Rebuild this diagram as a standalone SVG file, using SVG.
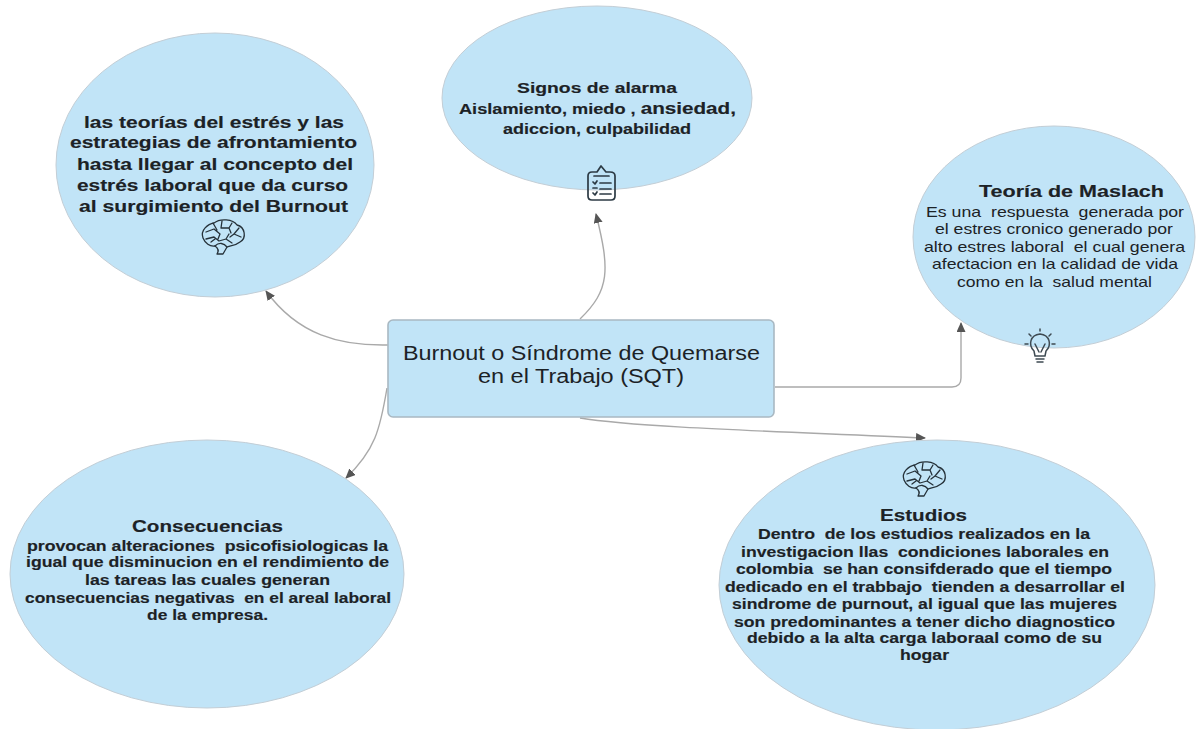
<svg xmlns="http://www.w3.org/2000/svg" width="1199" height="729" viewBox="0 0 1199 729">
<style>
.n{fill:#c1e4f7;stroke:#c3ced6;stroke-width:1}
.c{fill:none;stroke:#a9a9a9;stroke-width:1.4}
text{font-family:"Liberation Sans",Arial,sans-serif;fill:#1c2226;white-space:pre}
.b{font-weight:bold;font-size:14.5px;stroke:#1c2226;stroke-width:.15}
.t{font-size:16.5px}
.h{font-size:17px}
.r{font-size:14.5px;fill:#2b3338}
.ic{fill:none;stroke:#2c3a44;stroke-width:1.7;stroke-linecap:round;stroke-linejoin:round}
.br{fill:none;stroke:#26323a;stroke-width:1.3;stroke-linecap:round;stroke-linejoin:round}
</style>
<defs>
<marker id="a" markerWidth="11" markerHeight="11" refX="9" refY="4.5" orient="auto" markerUnits="userSpaceOnUse"><path d="M0 0L10 4.5L0 9Z" fill="#555"/></marker>
<g id="brain" class="br">
<path d="M-20 2C-23-6-15-12-9-13C-3-18 10-17 14-11C22-9 24 2 17 6C12 10 8 9 4 11L0 18L-6 18C-4 15-5 12-8 10C-13 11-18 7-20 2Z"/>
<path d="M-17-4L-9-7L-3-2M-10-13L-6-6M-1-15L-2-8L6-8L8-3M9-13L6-8M16-8L11-2L18 1M-17 3L-9 1L-4 5L3 3L9 7M-8 10C-4 6 1 7 4 11M3 3L6-2M-3-2L-5 3M-12 6L-8 3M11-2L7 1"/>
</g>
</defs>
<rect width="1199" height="729" fill="#fff"/>
<g id="connectors">
<path class="c" d="M388 345C340 346 298 335 266 291" marker-end="url(#a)"/>
<path class="c" d="M580 319C610 290 610 270 596 214" marker-end="url(#a)"/>
<path class="c" d="M775 387L952 387Q961 387 961 378L961 323" marker-end="url(#a)"/>
<path class="c" d="M580 418C640 428 800 432 925 438" marker-end="url(#a)"/>
<path class="c" d="M387 388C380 430 375 450 346 478" marker-end="url(#a)"/>
</g>
<g id="node-teorias">
<ellipse class="n" cx="215" cy="165" rx="159" ry="132"/>
<g class="b t">
<text x="84" y="128" textLength="260" lengthAdjust="spacingAndGlyphs">las teorías del estrés y las</text>
<text x="70" y="148" textLength="287" lengthAdjust="spacingAndGlyphs">estrategias de afrontamiento</text>
<text x="77" y="170" textLength="276" lengthAdjust="spacingAndGlyphs">hasta llegar al concepto del</text>
<text x="77" y="191" textLength="271" lengthAdjust="spacingAndGlyphs">estrés laboral que da curso</text>
<text x="79" y="212" textLength="269" lengthAdjust="spacingAndGlyphs">al surgimiento del Burnout</text>
</g>
<use href="#brain" x="223" y="236"/>
</g>
<g id="node-signos">
<ellipse class="n" cx="597" cy="98" rx="155" ry="92"/>
<text class="b" x="517" y="93" style="font-size:15.5px" textLength="160" lengthAdjust="spacingAndGlyphs">Signos de alarma</text>
<text class="b" x="459" y="114" textLength="277" lengthAdjust="spacingAndGlyphs">Aislamiento, miedo , <tspan style="font-size:16.5px">ansiedad,</tspan></text>
<text class="b" x="503" y="134" textLength="188" lengthAdjust="spacingAndGlyphs">adiccion, culpabilidad</text>
<g class="ic">
<path d="M594 172L597 172L601 166L606 172L610 172Q615 172 615 176L615 196Q615 200 611 200L592 200Q588 200 588 196L588 176Q588 172 592 172Z"/>
<path d="M594 176L609 176"/>
<path d="M593 182L595 184L597 181M600 183L611 183M593 188L597 188M600 189L611 189M593 193L595 195L597 192M600 194L611 194"/>
</g>
</g>
<g id="node-maslach">
<ellipse class="n" cx="1054" cy="237" rx="141" ry="111"/>
<text class="b h" x="979" y="197" textLength="185" lengthAdjust="spacingAndGlyphs">Teoría de Maslach</text>
<g class="r">
<text x="926" y="217" textLength="258" lengthAdjust="spacingAndGlyphs">Es una  respuesta  generada por</text>
<text x="935" y="234" textLength="238" lengthAdjust="spacingAndGlyphs">el estres cronico generado por</text>
<text x="924" y="252" textLength="261" lengthAdjust="spacingAndGlyphs">alto estres laboral  el cual genera</text>
<text x="932" y="269" textLength="246" lengthAdjust="spacingAndGlyphs">afectacion en la calidad de vida</text>
<text x="957" y="287" textLength="195" lengthAdjust="spacingAndGlyphs">como en la  salud mental</text>
</g>
<g class="ic" style="stroke:#3e4a52;stroke-width:1.5">
<path d="M1034 351C1028 345 1030 335 1040 334C1050 335 1052 345 1046 351L1045 356L1035 356Z"/>
<path d="M1036 359L1044 359M1037 362L1043 362M1035 344L1039 352M1045 344L1041 352M1025 344L1028 344M1052 344L1055 344M1029 334L1031 336M1051 334L1049 336M1040 329L1040 331"/>
</g>
</g>
<g id="node-central">
<rect x="388" y="320" width="386" height="97" rx="5" fill="#c1e4f7" stroke="#a9b8c2" stroke-width="1.6"/>
<text x="403" y="360" style="font-size:19.5px" textLength="357" lengthAdjust="spacingAndGlyphs">Burnout o Síndrome de Quemarse</text>
<text x="478" y="383" style="font-size:19.5px" textLength="206" lengthAdjust="spacingAndGlyphs">en el Trabajo (SQT)</text>
</g>
<g id="node-consecuencias">
<ellipse class="n" cx="207" cy="574" rx="197" ry="134"/>
<text class="b h" x="132" y="532" textLength="151" lengthAdjust="spacingAndGlyphs">Consecuencias</text>
<g class="b">
<text x="27" y="551" textLength="361" lengthAdjust="spacingAndGlyphs">provocan alteraciones  psicofisiologicas la</text>
<text x="26" y="567" textLength="363" lengthAdjust="spacingAndGlyphs">igual que disminucion en el rendimiento de</text>
<text x="85" y="585" textLength="245" lengthAdjust="spacingAndGlyphs">las tareas las cuales generan</text>
<text x="25" y="603" textLength="366" lengthAdjust="spacingAndGlyphs">consecuencias negativas  en el areal laboral</text>
<text x="147" y="620" textLength="121" lengthAdjust="spacingAndGlyphs">de la empresa.</text>
</g>
</g>
<g id="node-estudios">
<ellipse class="n" cx="937" cy="585" rx="218" ry="145"/>
<use href="#brain" x="924" y="478"/>
<text class="b h" x="880" y="521" textLength="87" lengthAdjust="spacingAndGlyphs">Estudios</text>
<g class="b">
<text x="758" y="539" textLength="332" lengthAdjust="spacingAndGlyphs">Dentro  de los estudios realizados en la</text>
<text x="741" y="557" textLength="368" lengthAdjust="spacingAndGlyphs">investigacion llas  condiciones laborales en</text>
<text x="736" y="574" textLength="376" lengthAdjust="spacingAndGlyphs">colombia  se han consifderado que el tiempo</text>
<text x="725" y="592" textLength="400" lengthAdjust="spacingAndGlyphs">dedicado en el trabbajo  tienden a desarrollar el</text>
<text x="732" y="609" textLength="385" lengthAdjust="spacingAndGlyphs">sindrome de purnout, al igual que las mujeres</text>
<text x="734" y="627" textLength="381" lengthAdjust="spacingAndGlyphs">son predominantes a tener dicho diagnostico</text>
<text x="747" y="643" textLength="355" lengthAdjust="spacingAndGlyphs">debido a la alta carga laboraal como de su</text>
<text x="900" y="660" textLength="49" lengthAdjust="spacingAndGlyphs">hogar</text>
</g>
</g>
</svg>
